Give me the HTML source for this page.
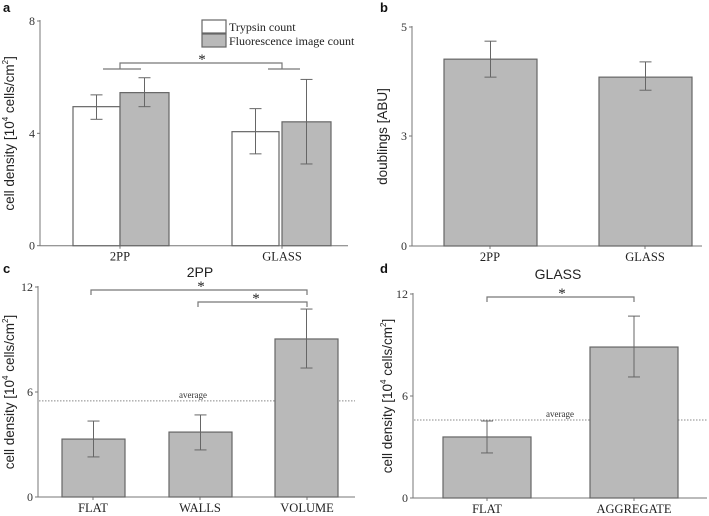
<!DOCTYPE html>
<html><head><meta charset="utf-8"><style>
html,body{margin:0;padding:0;background:#fff;width:709px;height:516px;overflow:hidden}
svg{display:block}
.serif{font-family:"Liberation Serif",serif}
.sans{font-family:"Liberation Sans",sans-serif}
</style></head><body>
<svg id="fig" width="709" height="516" viewBox="0 0 709 516"></svg>
<script>
// Panel a
const aCats = ['2PP','GLASS'];
const aTrypsin = [4.95, 4.06];
const aTrypsinLo = [4.5, 3.27];
const aTrypsinHi = [5.37, 4.88];
const aFluor = [5.45, 4.41];
const aFluorLo = [4.95, 2.91];
const aFluorHi = [5.98, 5.92];
const aTicks = [0, 4, 8];
// Panel b
const bCats = ['2PP','GLASS'];
const bVals = [4.41, 4.08];
const bLo = [4.08, 3.84];
const bHi = [4.74, 4.36];
const bTicks = [0, 3, 5];
// Panel c
const cCats = ['FLAT','WALLS','VOLUME'];
const cVals = [3.31, 3.71, 9.03];
const cLo = [2.29, 2.69, 7.37];
const cHi = [4.34, 4.69, 10.74];
const cAvg = 5.49;
const cTicks = [0, 6, 12];
// Panel d
const dCats = ['FLAT','AGGREGATE'];
const dVals = [3.59, 8.88];
const dLo = [2.65, 7.12];
const dHi = [4.53, 10.7];
const dAvg = 4.59;
const dTicks = [0, 6, 12];

const NS='http://www.w3.org/2000/svg';
const svg=document.getElementById('fig');
function mk(tag,attrs,parent,text){const e=document.createElementNS(NS,tag);for(const k in attrs)e.setAttribute(k,attrs[k]);if(text!==undefined)e.textContent=text;(parent||svg).appendChild(e);return e;}
const AX='#777', BAR='#b9b9b9', BARS='#666', ERR='#666';

function panel(o){
  const g=mk('g',{});
  
  
  const y=o.y;
  // axes
  const ya=mk('line',{x1:o.x0,y1:y(o.ticks[o.ticks.length-1])-1,x2:o.x0,y2:o.yb,stroke:AX,'stroke-width':1},g);
  
  const xa=mk('line',{x1:o.x0,y1:o.yb,x2:o.x1,y2:o.yb,stroke:AX,'stroke-width':1},g);
  
  o.ticks.forEach(t=>{
    mk('line',{x1:o.x0-3,y1:y(t),x2:o.x0,y2:y(t),stroke:AX},g);
    const tl=mk('text',{x:o.x0-5,y:y(t)+4,'text-anchor':'end','font-size':12,fill:'#333',class:'serif'},g,String(t));
    
  });
  o.cats.forEach((c,i)=>{
    const cx=o.catX[i];
    mk('line',{x1:cx,y1:o.yb,x2:cx,y2:o.yb+3,stroke:AX},g);
    const cl=mk('text',{x:cx,y:o.yb+15,'text-anchor':'middle','font-size':12.5,fill:'#222',class:'serif'},g,c);
    
  });
  const yt=mk('text',{transform:`translate(${o.titleX},${(y(o.ticks[o.ticks.length-1])+o.yb)/2}) rotate(-90)`,'text-anchor':'middle','font-size':13.5,fill:'#222',class:'sans'},g);
  
  yt.innerHTML=o.title;
  const pl=mk('text',{x:o.lx,y:o.ly,'font-size':13,'font-weight':'bold',fill:'#111',class:'sans'},g,o.letter);
  
  return g;
}
function bar(g,x,w,v,lo,hi,y,fill,name){
  const r=mk('rect',{x:x,y:y(v),width:w,height:y(0)-y(v),fill:fill,stroke:BARS,'stroke-width':1.2},g);
  
  const cx=x+w/2;
  const e=mk('g',{},g);
  
  mk('line',{x1:cx,y1:y(hi),x2:cx,y2:y(lo),stroke:ERR},e);
  mk('line',{x1:cx-6,y1:y(hi),x2:cx+6,y2:y(hi),stroke:ERR},e);
  mk('line',{x1:cx-6,y1:y(lo),x2:cx+6,y2:y(lo),stroke:ERR},e);
}
function bracket(g,x1,x2,yy,leg1,leg2,sx,sy){
  const b=mk('path',{d:`M${x1},${yy+leg1}V${yy}H${x2}V${yy+leg2}`,fill:'none',stroke:'#777','stroke-width':1.2},g);
  
  const s=mk('text',{x:sx,y:sy,'text-anchor':'middle','font-size':15,fill:'#222',class:'serif'},g,'*');
  
}
function avgLine(g,x0,x1,yy,lx){
  const l=mk('line',{x1:x0,y1:yy,x2:x1,y2:yy,stroke:'#888','stroke-dasharray':'1.5,1.5'},g);
  
  const t=mk('text',{x:lx,y:yy-3,'text-anchor':'middle','font-size':9,fill:'#333',class:'serif'},g,'average');
  
}

// ---- Panel a
{const yb=245.7, yt=21; const y=v=>yb-(v/8)*(yb-yt);
 const g=panel({name:'panel-a',x0:40,x1:348,yb:yb,y:y,ticks:aTicks,cats:aCats,catX:[120,282],titleX:14,title:'cell density [10<tspan font-size="8" dy="-6">4</tspan><tspan dy="6"> cells/cm</tspan><tspan font-size="8" dy="-6">2</tspan><tspan dy="6">]</tspan>',letter:'a',lx:3,ly:12});
 const tx=[73,232], fx=[120,282];
 aCats.forEach((c,i)=>{
   bar(g,tx[i],47,aTrypsin[i],aTrypsinLo[i],aTrypsinHi[i],y,'#fff','bar-trypsin-'+c.toLowerCase());
   bar(g,fx[i],49,aFluor[i],aFluorLo[i],aFluorHi[i],y,BAR,'bar-fluorescence-'+c.toLowerCase());
 });
 bracket(g,120,282,63,6,6,202,64);
 mk('line',{x1:103,y1:69,x2:141,y2:69,stroke:'#777','stroke-width':1.2},g);
 mk('line',{x1:268,y1:69,x2:300,y2:69,stroke:'#777','stroke-width':1.2},g);
 const lg=mk('g',{},g);
 const l1=mk('g',{},lg);
 mk('rect',{x:202,y:20,width:24,height:13,fill:'#fff',stroke:BARS,'stroke-width':1.2},l1);
 mk('text',{x:229,y:31,'font-size':12,fill:'#222',class:'serif'},l1,'Trypsin count');
 const l2=mk('g',{},lg);
 mk('rect',{x:202,y:34,width:24,height:13,fill:BAR,stroke:BARS,'stroke-width':1.2},l2);
 mk('text',{x:229,y:45,'font-size':12,fill:'#222',class:'serif'},l2,'Fluorescence image count');
}
// ---- Panel b (non-uniform axis: 0-3 and 3-5 equal length)
{const yb=246, y3=136, y5=27; const y=v=>v<=3?yb-(v/3)*(yb-y3):y3-((v-3)/2)*(y3-y5);
 const g=panel({name:'panel-b',x0:412,x1:702,yb:yb,y:y,ticks:bTicks,cats:bCats,catX:[490,645],titleX:387,title:'doublings [ABU]',letter:'b',lx:380,ly:12});
 const bx=[444,599];
 bCats.forEach((c,i)=>bar(g,bx[i],93,bVals[i],bLo[i],bHi[i],y,BAR,'bar-'+c.toLowerCase()));
}
// ---- Panel c
{const yb=497, yt=287; const y=v=>yb-(v/12)*(yb-yt);
 const g=panel({name:'panel-c',x0:38,x1:355,yb:yb,y:y,ticks:cTicks,cats:cCats,catX:[93,200,307],titleX:14,title:'cell density [10<tspan font-size="8" dy="-6">4</tspan><tspan dy="6"> cells/cm</tspan><tspan font-size="8" dy="-6">2</tspan><tspan dy="6">]</tspan>',letter:'c',lx:3,ly:273});
 const st=mk('text',{x:200,y:277,'text-anchor':'middle','font-size':14,fill:'#222',class:'sans'},g,'2PP');
 
 avgLine(g,39,355,y(cAvg),193);
 const cx=[62,169,275];
 cCats.forEach((c,i)=>bar(g,cx[i],63,cVals[i],cLo[i],cHi[i],y,BAR,'bar-'+c.toLowerCase()));
 bracket(g,91,307,290,5,5,201,291);
 bracket(g,198,307,302,5,5,256,303);
}
// ---- Panel d
{const yb=498, yt=294; const y=v=>yb-(v/12)*(yb-yt);
 const g=panel({name:'panel-d',x0:413,x1:707,yb:yb,y:y,ticks:dTicks,cats:dCats,catX:[487,634],titleX:392,title:'cell density [10<tspan font-size="8" dy="-6">4</tspan><tspan dy="6"> cells/cm</tspan><tspan font-size="8" dy="-6">2</tspan><tspan dy="6">]</tspan>',letter:'d',lx:380,ly:273});
 const st=mk('text',{x:558,y:279,'text-anchor':'middle','font-size':14,fill:'#222',class:'sans'},g,'GLASS');
 
 avgLine(g,414,707,y(dAvg),560);
 const dx=[443,590];
 dCats.forEach((c,i)=>bar(g,dx[i],88,dVals[i],dLo[i],dHi[i],y,BAR,'bar-'+c.toLowerCase()));
 bracket(g,487,634,297,5,5,562,298);
}
</script>
</body></html>
